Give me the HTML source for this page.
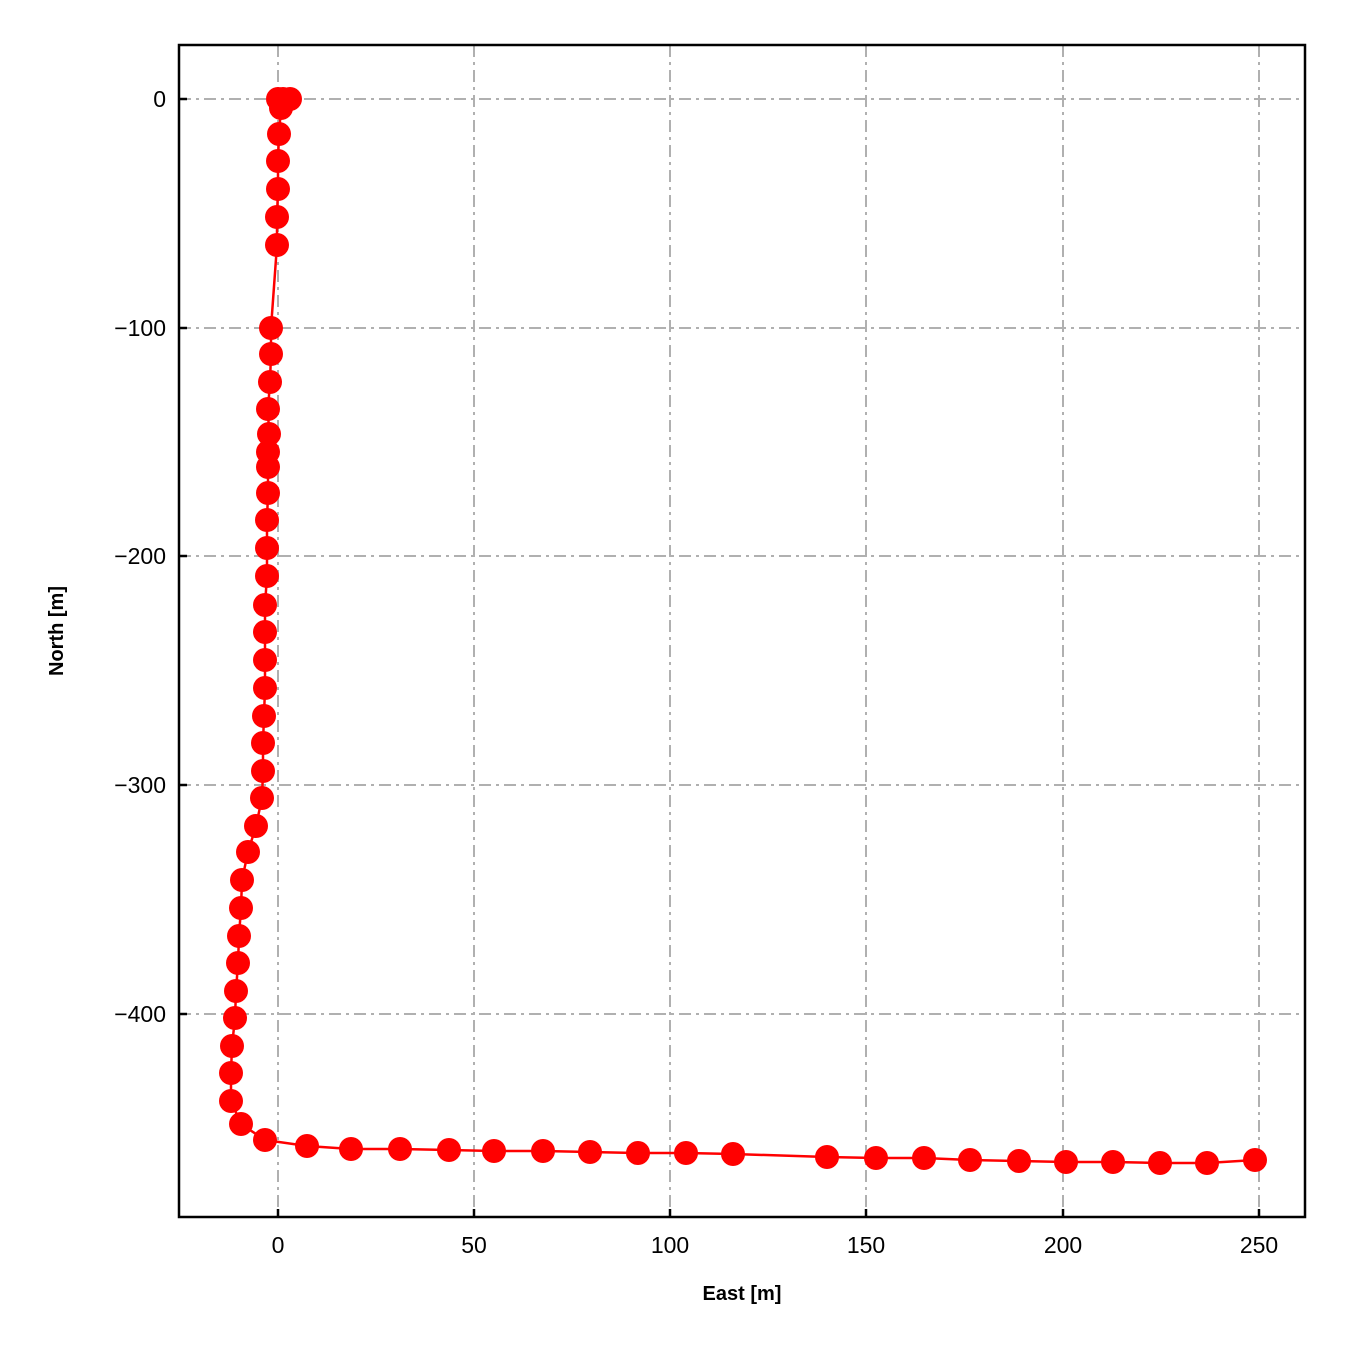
<!DOCTYPE html>
<html><head><meta charset="utf-8"><style>
html,body{margin:0;padding:0;background:#fff;}
</style></head><body>
<svg width="1350" height="1350" xmlns="http://www.w3.org/2000/svg" font-family="Liberation Sans, Arial, sans-serif">
<rect width="1350" height="1350" fill="#fff"/>
<g stroke="#b0b0b0" stroke-width="2" stroke-dasharray="12,5,3,5">
<line x1="278" y1="45" x2="278" y2="1217"/>
<line x1="474" y1="45" x2="474" y2="1217"/>
<line x1="670" y1="45" x2="670" y2="1217"/>
<line x1="866" y1="45" x2="866" y2="1217"/>
<line x1="1063" y1="45" x2="1063" y2="1217"/>
<line x1="1259" y1="45" x2="1259" y2="1217"/>
<line x1="179" y1="99" x2="1305" y2="99"/>
<line x1="179" y1="328" x2="1305" y2="328"/>
<line x1="179" y1="556" x2="1305" y2="556"/>
<line x1="179" y1="785" x2="1305" y2="785"/>
<line x1="179" y1="1014" x2="1305" y2="1014"/>
</g>
<g stroke="#000" stroke-width="2.5">
<line x1="278" y1="1217" x2="278" y2="1209"/><line x1="474" y1="1217" x2="474" y2="1209"/>
<line x1="670" y1="1217" x2="670" y2="1209"/><line x1="866" y1="1217" x2="866" y2="1209"/>
<line x1="1063" y1="1217" x2="1063" y2="1209"/><line x1="1259" y1="1217" x2="1259" y2="1209"/>
<line x1="179" y1="99" x2="187" y2="99"/><line x1="179" y1="328" x2="187" y2="328"/>
<line x1="179" y1="556" x2="187" y2="556"/><line x1="179" y1="785" x2="187" y2="785"/>
<line x1="179" y1="1014" x2="187" y2="1014"/>
</g>
<polyline fill="none" stroke="#ff0000" stroke-width="2.5" points="290,99 283,99 278,99 281,108 279,134 278,161 278,189 277,217 277,245 271,328 271,354 270,382 268,409 269,434 268,452 268,467 268,493 267,520 267,548 267,576 265,605 265,632 265,660 265,688 264,716 263,743 263,771 262,798 256,826 248,852 242,880 241,908 239,936 238,963 236,991 235,1018 232,1046 231,1073 231,1101 241,1124 265,1140 307,1146 351,1149 400,1149 449,1150 494,1151 543,1151 590,1152 638,1153 686,1153 733,1154 827,1157 876,1158 924,1158 970,1160 1019,1161 1066,1162 1113,1162 1160,1163 1207,1163 1255,1160"/>
<g fill="#ff0000">
<circle cx="290" cy="99" r="12"/><circle cx="283" cy="99" r="12"/><circle cx="278" cy="99" r="12"/><circle cx="281" cy="108" r="12"/><circle cx="279" cy="134" r="12"/><circle cx="278" cy="161" r="12"/><circle cx="278" cy="189" r="12"/><circle cx="277" cy="217" r="12"/><circle cx="277" cy="245" r="12"/><circle cx="271" cy="328" r="12"/><circle cx="271" cy="354" r="12"/><circle cx="270" cy="382" r="12"/><circle cx="268" cy="409" r="12"/><circle cx="269" cy="434" r="12"/><circle cx="268" cy="452" r="12"/><circle cx="268" cy="467" r="12"/><circle cx="268" cy="493" r="12"/><circle cx="267" cy="520" r="12"/><circle cx="267" cy="548" r="12"/><circle cx="267" cy="576" r="12"/><circle cx="265" cy="605" r="12"/><circle cx="265" cy="632" r="12"/><circle cx="265" cy="660" r="12"/><circle cx="265" cy="688" r="12"/><circle cx="264" cy="716" r="12"/><circle cx="263" cy="743" r="12"/><circle cx="263" cy="771" r="12"/><circle cx="262" cy="798" r="12"/><circle cx="256" cy="826" r="12"/><circle cx="248" cy="852" r="12"/><circle cx="242" cy="880" r="12"/><circle cx="241" cy="908" r="12"/><circle cx="239" cy="936" r="12"/><circle cx="238" cy="963" r="12"/><circle cx="236" cy="991" r="12"/><circle cx="235" cy="1018" r="12"/><circle cx="232" cy="1046" r="12"/><circle cx="231" cy="1073" r="12"/><circle cx="231" cy="1101" r="12"/><circle cx="241" cy="1124" r="12"/><circle cx="265" cy="1140" r="12"/><circle cx="307" cy="1146" r="12"/><circle cx="351" cy="1149" r="12"/><circle cx="400" cy="1149" r="12"/><circle cx="449" cy="1150" r="12"/><circle cx="494" cy="1151" r="12"/><circle cx="543" cy="1151" r="12"/><circle cx="590" cy="1152" r="12"/><circle cx="638" cy="1153" r="12"/><circle cx="686" cy="1153" r="12"/><circle cx="733" cy="1154" r="12"/><circle cx="827" cy="1157" r="12"/><circle cx="876" cy="1158" r="12"/><circle cx="924" cy="1158" r="12"/><circle cx="970" cy="1160" r="12"/><circle cx="1019" cy="1161" r="12"/><circle cx="1066" cy="1162" r="12"/><circle cx="1113" cy="1162" r="12"/><circle cx="1160" cy="1163" r="12"/><circle cx="1207" cy="1163" r="12"/><circle cx="1255" cy="1160" r="12"/>
</g>
<rect x="179" y="45" width="1126" height="1172" fill="none" stroke="#000" stroke-width="2.5"/>
<g font-size="23" fill="#000" text-anchor="middle">
<text x="278" y="1253">0</text><text x="474" y="1253">50</text><text x="670" y="1253">100</text>
<text x="866" y="1253">150</text><text x="1063" y="1253">200</text><text x="1259" y="1253">250</text>
</g>
<g font-size="23" fill="#000" text-anchor="end">
<text x="166" y="107">0</text><text x="166" y="336">−100</text><text x="166" y="564">−200</text>
<text x="166" y="793">−300</text><text x="166" y="1022">−400</text>
</g>
<text x="742" y="1300" font-size="20" font-weight="bold" text-anchor="middle">East [m]</text>
<text transform="translate(63,631) rotate(-90)" font-size="20" font-weight="bold" text-anchor="middle">North [m]</text>
</svg>
</body></html>
